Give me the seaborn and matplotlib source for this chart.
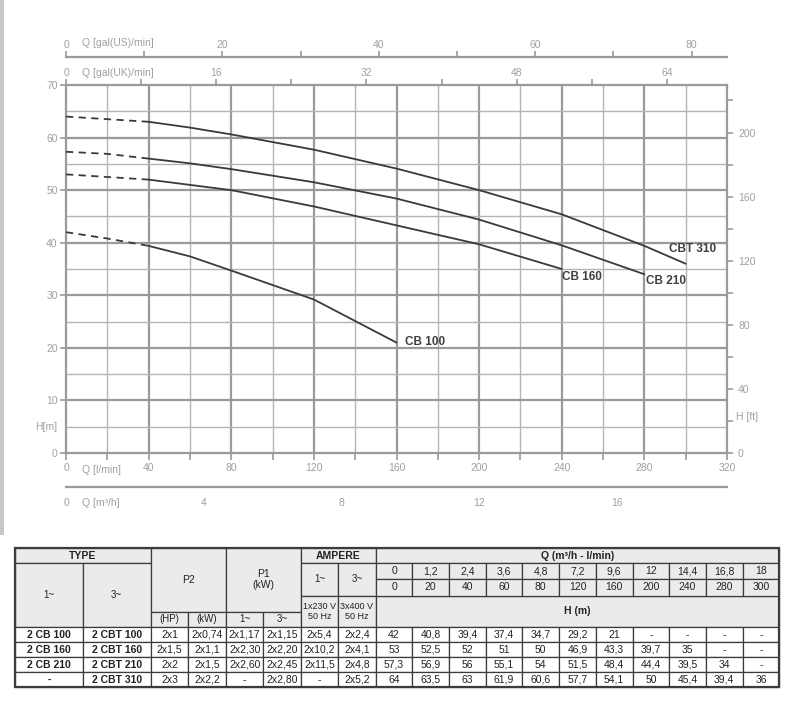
"""
Pump curves for the 2 CB / 2 CBT twin pumps, with the data table below.
"""

import pandas as pd
import seaborn as sns
import matplotlib.pyplot as plt
from matplotlib.patches import Rectangle
from matplotlib.ticker import MultipleLocator

output_file = "out.png"

# Flow points (table header) and heads per model
q_m3h = ["0", "1,2", "2,4", "3,6", "4,8", "7,2", "9,6", "12", "14,4", "16,8", "18"]
q_lmin = [0, 20, 40, 60, 80, 120, 160, 200, 240, 280, 300]
models = ["CB 100", "CB 160", "CB 210", "CBT 310"]
head_cb100 = [42, 40.8, 39.4, 37.4, 34.7, 29.2, 21, None, None, None, None]
head_cb160 = [53, 52.5, 52, 51, 50, 46.9, 43.3, 39.7, 35, None, None]
head_cb210 = [57.3, 56.9, 56, 55.1, 54, 51.5, 48.4, 44.4, 39.5, 34, None]
head_cbt310 = [64, 63.5, 63, 61.9, 60.6, 57.7, 54.1, 50, 45.4, 39.4, 36]
heads = [head_cb100, head_cb160, head_cb210, head_cbt310]

# Curve label positions (l/min, m)
label_q = [164, 240, 281, 292]
label_h = [21.1, 33.5, 32.7, 38.8]

# Table columns
type_1ph = ["2 CB 100", "2 CB 160", "2 CB 210", "-"]
type_3ph = ["2 CBT 100", "2 CBT 160", "2 CBT 210", "2 CBT 310"]
p2_hp = ["2x1", "2x1,5", "2x2", "2x3"]
p2_kw = ["2x0,74", "2x1,1", "2x1,5", "2x2,2"]
p1_1ph = ["2x1,17", "2x2,30", "2x2,60", "-"]
p1_3ph = ["2x1,15", "2x2,20", "2x2,45", "2x2,80"]
amp_1ph = ["2x5,4", "2x10,2", "2x11,5", "-"]
amp_3ph = ["2x2,4", "2x4,1", "2x4,8", "2x5,2"]

GRAY = "#9a9a9a"
TXT = "#a0a0a0"
CURVE = "#3a3a3a"

sns.set_style("white")
plt.rcParams["font.family"] = ["Liberation Sans", "DejaVu Sans"]

W, H = 800, 702
fig = plt.figure(figsize=(8, 7.02), dpi=100)


def fx(px):
    return px / W


def fy(py):
    return 1 - py / H


# background axes in pixel coordinates for the table and the frame stripe
axt = fig.add_axes([0, 0, 1, 1])
axt.set_xlim(0, W)
axt.set_ylim(H, 0)
axt.axis("off")
axt.add_patch(Rectangle((0, 0), 4, 535, color="#c8c8c8", lw=0))

# main chart
ax = fig.add_axes([fx(66), fy(453), 661 / W, 368 / H])
ax.set_xlim(0, 320)
ax.set_ylim(0, 70)
for v in range(20, 320, 20):
    major = v % 40 == 0
    ax.axvline(v, color=GRAY if major else "#b4b4b4", lw=1.6 if major else 1.0, zorder=1)
for v in range(5, 70, 5):
    major = v % 10 == 0
    ax.axhline(v, color=GRAY if major else "#b4b4b4", lw=1.6 if major else 1.0, zorder=1)

for name, h in zip(models, heads):
    df = pd.DataFrame({"q": q_lmin, "h": h}).dropna()
    dashed = df[df["q"] <= 40]
    solid = df[df["q"] >= 40]
    sns.lineplot(data=dashed, x="q", y="h", ax=ax, color=CURVE, lw=1.3,
                 linestyle=(0, (4, 3)), zorder=3)
    sns.lineplot(data=solid, x="q", y="h", ax=ax, color=CURVE, lw=1.3, zorder=3)

for name, lq, lh in zip(models, label_q, label_h):
    ax.text(lq, lh, name, fontsize=8.5, fontweight="bold", color="#404040",
            ha="left", va="center")

ax.set_xlabel("")
ax.set_ylabel("")
ax.xaxis.set_major_locator(MultipleLocator(40))
ax.xaxis.set_minor_locator(MultipleLocator(20))
ax.yaxis.set_major_locator(MultipleLocator(10))
ax.tick_params(axis="x", which="both", direction="out", length=5, width=1.2,
               color=GRAY, labelcolor=TXT, labelsize=7.5, pad=2)
ax.tick_params(axis="y", which="both", direction="out", length=4, width=1.2,
               color=GRAY, labelcolor=TXT, labelsize=7.5, pad=2)
for s in ax.spines.values():
    s.set_color(GRAY)
    s.set_linewidth(1.6)

# right axis in feet
axr = ax.twinx()
axr.set_ylim(0, 70 * 3.28084)
axr.yaxis.set_major_locator(MultipleLocator(40))
axr.set_yticks(range(20, 230, 40), minor=True)
axr.set_yticks(range(0, 201, 40))
axr.tick_params(axis="y", which="both", direction="out", length=4, width=1.2,
                color=GRAY, labelcolor=TXT, labelsize=7.5, pad=4)
for s in axr.spines.values():
    s.set_visible(False)

# top axis in UK gallons (plot's top spine)
axu = ax.twiny()
axu.set_xlim(0, 320 / 4.54609)
axu.set_xticks(range(0, 65, 16))
axu.set_xticks(range(8, 65, 16), minor=True)
axu.tick_params(axis="x", which="both", direction="out", length=4, width=1.2,
                color=GRAY, labelcolor=TXT, labelsize=7.5, pad=1)
for s in axu.spines.values():
    s.set_visible(False)

# separate US gallon axis above
axg = fig.add_axes([fx(66), fy(67), 661 / W, 10 / H])
axg.set_xlim(0, 320 / 3.78541)
axg.set_yticks([])
axg.patch.set_visible(False)
axg.xaxis.tick_top()
axg.set_xticks(range(0, 81, 20))
axg.set_xticks(range(10, 81, 20), minor=True)
axg.tick_params(axis="x", which="both", direction="out", length=4, width=1.2,
                color=GRAY, labelcolor=TXT, labelsize=7.5, pad=1)
for k, s in axg.spines.items():
    s.set_visible(k == "top")
    s.set_color(GRAY)
    s.set_linewidth(1.6)

# separate m3/h axis below
axm = fig.add_axes([fx(66), fy(487), 661 / W, 10 / H])
axm.set_xlim(0, 320 * 0.06)
axm.set_yticks([])
axm.patch.set_visible(False)
axm.set_xticks(range(0, 17, 4))
axm.set_xticks(range(2, 19, 4), minor=True)
axm.tick_params(axis="x", which="both", direction="out", length=6, width=1.2,
                color=GRAY, labelcolor=TXT, labelsize=7.5, pad=2)
for k, s in axm.spines.items():
    s.set_visible(k == "bottom")
    s.set_color(GRAY)
    s.set_linewidth(1.6)

# axis titles
ttl = dict(fontsize=7.5, color=TXT, va="center", ha="left")
fig.text(fx(82), fy(43), "Q [gal(US)/min]", **ttl)
fig.text(fx(82), fy(73), "Q [gal(UK)/min]", **ttl)
fig.text(fx(82), fy(470), "Q [l/min]", **ttl)
fig.text(fx(82), fy(503), "Q [m³/h]", **ttl)
fig.text(fx(57), fy(427), "H[m]", fontsize=7.5, color=TXT, va="center", ha="right")
fig.text(fx(736), fy(417), "H [ft]", **ttl)

# ---- table ----
HDR = "#ebebeb"
LINE = "#3c3c3c"


def cell(x0, x1, y0, y1, text, bold=False, bg="white", size=7.5):
    axt.add_patch(Rectangle((x0, y0), x1 - x0, y1 - y0, facecolor=bg,
                            edgecolor=LINE, lw=0.9))
    axt.text((x0 + x1) / 2, (y0 + y1) / 2, text, ha="center", va="center",
             fontsize=size, fontweight="bold" if bold else "normal",
             color="#222222", linespacing=1.1)


ry = [548, 563.3, 579.3, 595.7, 611.7, 627.3, 642.3, 657.3, 672.3, 687.3]
cx = [15, 82.7, 150.7, 188.3, 226, 263.3, 301, 338.3, 375.7]
qx = [375.7 + i * (779.3 - 375.7) / 11 for i in range(12)]

cell(cx[0], cx[2], ry[0], ry[1], "TYPE", True, HDR)
cell(cx[0], cx[1], ry[1], ry[5], "1~", bg=HDR, size=7)
cell(cx[1], cx[2], ry[1], ry[5], "3~", bg=HDR, size=7)
cell(cx[2], cx[4], ry[0], ry[4], "P2", bg=HDR)
cell(cx[2], cx[3], ry[4], ry[5], "(HP)", bg=HDR, size=7)
cell(cx[3], cx[4], ry[4], ry[5], "(kW)", bg=HDR, size=7)
cell(cx[4], cx[6], ry[0], ry[4], "P1\n(kW)", bg=HDR)
cell(cx[4], cx[5], ry[4], ry[5], "1~", bg=HDR, size=7)
cell(cx[5], cx[6], ry[4], ry[5], "3~", bg=HDR, size=7)
cell(cx[6], cx[8], ry[0], ry[1], "AMPERE", True, HDR)
cell(cx[6], cx[7], ry[1], ry[3], "1~", bg=HDR, size=7)
cell(cx[7], cx[8], ry[1], ry[3], "3~", bg=HDR, size=7)
cell(cx[6], cx[7], ry[3], ry[5], "1x230 V\n50 Hz", bg=HDR, size=6.5)
cell(cx[7], cx[8], ry[3], ry[5], "3x400 V\n50 Hz", bg=HDR, size=6.5)
cell(qx[0], qx[-1], ry[0], ry[1], "Q (m³/h - l/min)", True, HDR)
cell(qx[0], qx[-1], ry[3], ry[5], "H (m)", True, HDR)
for i in range(11):
    cell(qx[i], qx[i + 1], ry[1], ry[2], q_m3h[i], bg=HDR)
    cell(qx[i], qx[i + 1], ry[2], ry[3], str(q_lmin[i]), bg=HDR)

for r in range(4):
    y0, y1 = ry[5 + r], ry[6 + r]
    cell(cx[0], cx[1], y0, y1, type_1ph[r], True)
    cell(cx[1], cx[2], y0, y1, type_3ph[r], True)
    cell(cx[2], cx[3], y0, y1, p2_hp[r])
    cell(cx[3], cx[4], y0, y1, p2_kw[r])
    cell(cx[4], cx[5], y0, y1, p1_1ph[r])
    cell(cx[5], cx[6], y0, y1, p1_3ph[r])
    cell(cx[6], cx[7], y0, y1, amp_1ph[r])
    cell(cx[7], cx[8], y0, y1, amp_3ph[r])
    for i, v in enumerate(heads[r]):
        txt = "-" if v is None else f"{v:g}".replace(".", ",")
        cell(qx[i], qx[i + 1], y0, y1, txt)

axt.add_patch(Rectangle((cx[0], ry[0]), qx[-1] - cx[0], ry[-1] - ry[0],
                        fill=False, edgecolor=LINE, lw=1.6))

plt.savefig(output_file, dpi=100)
plt.close()
